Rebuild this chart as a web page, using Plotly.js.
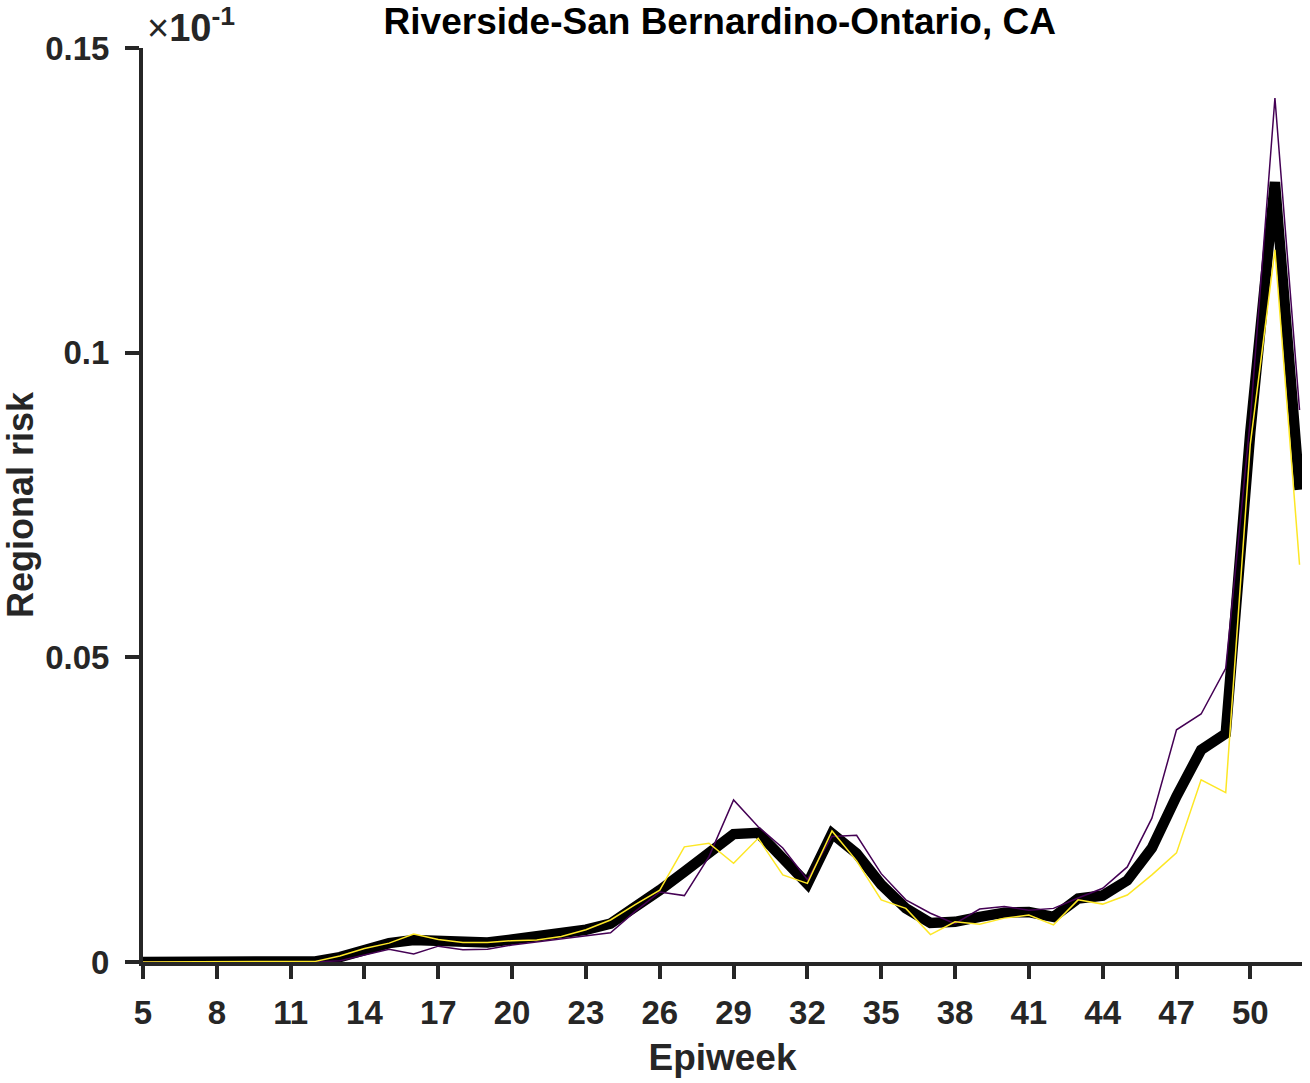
<!DOCTYPE html>
<html>
<head>
<meta charset="utf-8">
<script src="https://cdn.plot.ly/plotly-3.0.1.min.js"></script>
<style>
  html, body { margin: 0; padding: 0; background: #ffffff; }
  #chart { width: 1310px; height: 1083px; }
</style>
</head>
<body>
<div id="chart"></div>
<script>
// Epiweeks
const weeks = [5,6,7,8,9,10,11,12,13,14,15,16,17,18,19,20,21,22,23,24,25,26,27,28,
               29,30,31,32,33,34,35,36,37,38,39,40,41,42,43,44,45,46,47,48,49,50,51,52];

// Thick black line (mean)
const meanRisk = [0,0,0,0,0,0,0.00005,0.0001,0.0008,0.0021,0.0031,0.0036,0.0036,0.0032,0.0032,0.0037,
                  0.0041,0.0046,0.0053,0.0063,0.0088,0.0118,0.0148,0.0178,0.0210,0.0212,0.0170,0.0128,
                  0.0211,0.0178,0.0127,0.0088,0.0064,0.0066,0.0074,0.0081,0.0082,0.0074,0.0104,0.0109,
                  0.0134,0.0187,0.0272,0.0348,0.0375,0.0870,0.1280,0.0775];

// Thin purple line
const purpleRisk = [0,0,0,0,0,0,0,0,0.0002,0.0011,0.0021,0.0013,0.0026,0.0020,0.0021,0.0028,
                    0.0033,0.0037,0.0043,0.0048,0.0083,0.0115,0.0109,0.0173,0.0266,0.0222,0.0187,0.0135,
                    0.0206,0.0208,0.0145,0.0102,0.0080,0.0063,0.0087,0.0091,0.0085,0.0088,0.0105,0.0121,
                    0.0156,0.0236,0.0381,0.0407,0.0482,0.0890,0.1418,0.0906];

// Thin yellow line
const yellowRisk = [0,0,0,0,0,0,0,0.0001,0.0010,0.0022,0.0031,0.0046,0.0037,0.0032,0.0032,0.0035,
                    0.0036,0.0042,0.0053,0.0069,0.0094,0.0118,0.0189,0.0195,0.0162,0.0203,0.0143,0.0129,
                    0.0215,0.0166,0.0102,0.0088,0.0045,0.0066,0.0062,0.0072,0.0077,0.0061,0.0102,0.0095,
                    0.0110,0.0143,0.0179,0.0299,0.0278,0.0850,0.1169,0.0652];

const xTicks = [5,8,11,14,17,20,23,26,29,32,35,38,41,44,47,50];
const yTicks = [0, 0.05, 0.1, 0.15];
const yTickText = ['0', '0.05', '0.1', '0.15'];

const titleText = 'Riverside-San Bernardino-Ontario, CA';
const xTitle = 'Epiweek';
const yTitle = 'Regional risk';

const FONT = 'Liberation Sans, Arial, Helvetica, sans-serif';
const AX = '#262626';

const traces = [
  { x: weeks, y: meanRisk, type: 'scatter', mode: 'lines',
    line: { color: '#000000', width: 10.5 }, hoverinfo: 'skip', showlegend: false },
  { x: weeks, y: purpleRisk, type: 'scatter', mode: 'lines',
    line: { color: '#440154', width: 1.5 }, hoverinfo: 'skip', showlegend: false },
  { x: weeks, y: yellowRisk, type: 'scatter', mode: 'lines',
    line: { color: '#FDE725', width: 1.5 }, hoverinfo: 'skip', showlegend: false }
];

const layout = {
  width: 1310, height: 1083,
  margin: { l: 143, r: 7.5, t: 48, b: 121, pad: 0 },
  paper_bgcolor: '#ffffff', plot_bgcolor: '#ffffff',
  showlegend: false,
  font: { family: FONT, color: AX },
  title: {
    text: titleText,
    font: { family: FONT, size: 37, weight: 'bold', color: '#000000' },
    x: (720 - 143) / 1159.5, xref: 'paper', xanchor: 'center',
    y: 1 - 21/1083, yref: 'container', yanchor: 'middle'
  },
  xaxis: {
    range: [5, 52.1], tickmode: 'array', tickvals: xTicks,
    ticks: 'outside', ticklen: 13, tickwidth: 4, tickcolor: AX,
    showline: true, linewidth: 4, linecolor: AX, mirror: false,
    showgrid: false, zeroline: false,
    tickfont: { family: FONT, size: 33, weight: 'bold', color: AX },
    ticklabelstandoff: 5,
    title: { text: xTitle, font: { family: FONT, size: 37, weight: 'bold', color: AX }, standoff: 16 },
    automargin: false, fixedrange: true
  },
  yaxis: {
    range: [0, 0.15], tickmode: 'array', tickvals: yTicks, ticktext: yTickText,
    ticks: 'outside', ticklen: 14, tickwidth: 4, tickcolor: AX,
    showline: true, linewidth: 4, linecolor: AX, mirror: false,
    showgrid: false, zeroline: false,
    tickfont: { family: FONT, size: 33, weight: 'bold', color: AX },
    ticklabelstandoff: 9,
    title: { text: yTitle, font: { family: FONT, size: 36, weight: 'bold', color: AX }, standoff: 14 },
    automargin: false, fixedrange: true
  },
  annotations: [
    {
      xref: 'paper', yref: 'paper',
      x: (145 - 143) / 1159.5, y: (962 - 25) / 914,
      xanchor: 'left', yanchor: 'middle', showarrow: false,
      text: "<span style='font-weight:normal'>×</span><b>10<sup>-1</sup></b>",
      font: { family: FONT, size: 38, color: AX }
    }
  ]
};

Plotly.newPlot('chart', traces, layout, { displayModeBar: false, staticPlot: true });
</script>
</body>
</html>
